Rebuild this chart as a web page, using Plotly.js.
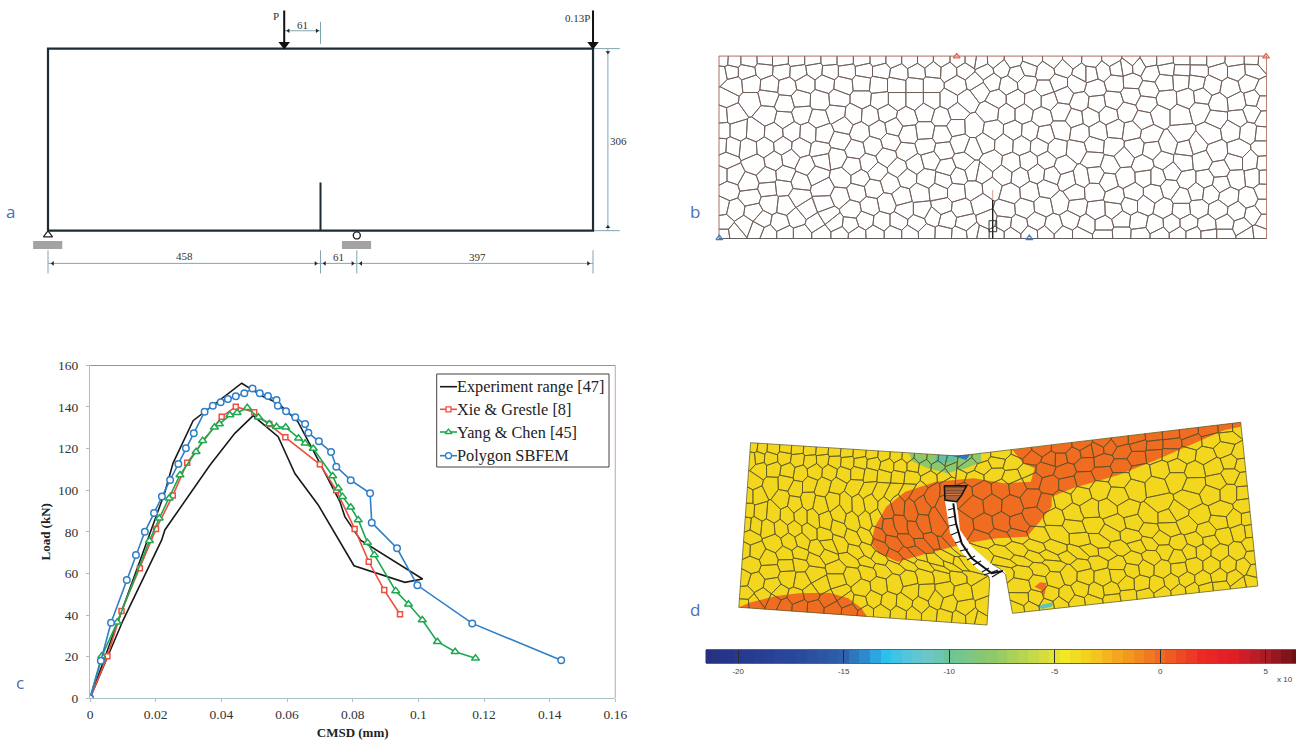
<!DOCTYPE html>
<html>
<head>
<meta charset="utf-8">
<script src="https://cdn.plot.ly/plotly-3.0.1.min.js"></script>
<style>html,body{margin:0;padding:0;background:#fff}#g{width:1296px;height:740px}</style>
</head>
<body>
<div id="g"></div>
<script>
// ---------- panel c: load vs CMSD ----------
const expX = [0,0.0228,0.0253,0.0314,0.0462,0.0527,0.0573,0.0633,0.069,0.0761,0.0776,0.0824,0.1013,0.0959,0.0804,0.0761,0.0695,0.0624,0.0573,0.0497,0.0441,0.0365,0.0284,0.0228,0.0218,0.0101,0];
const expY = [0,99,113,133.4,151.4,145,141.8,132.9,116,94.5,87.3,76,57.3,55.7,63.7,75.3,92.9,108,125.7,135.8,127.3,112,93.7,80.9,76,37.6,0];
const xieX = [0,0.0053,0.0096,0.0152,0.0201,0.0252,0.0296,0.0401,0.0444,0.05,0.0546,0.0595,0.07,0.075,0.0806,0.0849,0.0896,0.0944];
const xieY = [0,20.2,42,62.5,81.3,97.4,113.2,135.3,140.1,137.4,131.8,125.4,112.4,100,81.4,65.6,52,40.4];
const yangX = [0,0.0036,0.0083,0.0181,0.0211,0.0241,0.0274,0.0323,0.0343,0.0379,0.0394,0.0426,0.0448,0.0479,0.0513,0.0546,0.0568,0.0596,0.0635,0.0655,0.068,0.0739,0.0756,0.0769,0.0794,0.0817,0.0845,0.0866,0.0931,0.097,0.1012,0.1058,0.1112,0.1174];
const yangY = [0,20.3,36.5,75.7,86.5,96.1,107.3,118.5,123.8,130.2,131.8,136.1,137.2,139.6,135,131.8,130.5,130.2,124.9,122.5,120,106.8,100.9,96.9,91.8,85.7,74.8,68.9,51.6,45.2,37.6,27.2,22.4,19.2];
const sbfemX = [0,0.0033,0.0064,0.0112,0.014,0.0167,0.0195,0.0219,0.0244,0.0269,0.0292,0.0316,0.0349,0.0374,0.0398,0.042,0.0444,0.047,0.0495,0.0517,0.0542,0.0568,0.0572,0.0597,0.0625,0.0655,0.0665,0.0697,0.0734,0.075,0.0794,0.0853,0.0858,0.0935,0.0997,0.1164,0.1435];
const sbfemY = [0,18,36.3,56.8,68.9,80,89,97,104.9,112.6,120.1,127.3,137.7,140.6,142.2,143.8,145.1,146.6,148.8,146.6,145.3,143.3,140.6,137.9,135,131.8,127.6,123.5,118.4,111.3,104.8,98.5,84.4,72.1,54.3,36,18.3];
const seriesNames = ['Experiment range [47]','Xie & Grestle [8]','Yang & Chen [45]','Polygon SBFEM'];
const xTicks = [0,0.02,0.04,0.06,0.08,0.1,0.12,0.14,0.16];
const xTickLabels = ['0','0.02','0.04','0.06','0.08','0.1','0.12','0.14','0.16'];
const yTicks = [0,20,40,60,80,100,120,140,160];

// ---------- panel a: beam dimensions (mm) ----------
const beamX = [0,916,916,0,0];
const beamY = [0,0,306,306,0];
const notchX = [458,458];
const notchY = [0,81];
const dimBottomText = ['458','61','397'];
const loadX = [397,916];
const loadText = ['P','0.13P'];

// ---------- panel b and d: mesh cell centres ----------
const meshLeft = [
[130,58],[158,60],[207,60],[255,58],[300,58],[350,58],[398,58],[447,58],[495,58],[545,58],[595,58],[640,58],[690,58],[735,58],[785,58],[835,58],[875,58],
[125,100],[150,95],[200,95],[252,88],[305,92],[355,95],[403,88],[450,92],[500,92],[552,90],[603,90],[657,98],[710,95],[760,90],[805,92],[855,90],
[160,135],[212,130],[270,135],[320,140],[375,130],[435,130],[490,135],[545,130],[595,135],[650,135],[705,135],[755,135],[830,135],[885,125],
[140,175],[212,185],[265,172],[315,192],[362,178],[420,180],[475,175],[545,175],[600,180],[650,180],[705,180],[755,180],[805,180],[860,180],
[122,225],[160,222],[260,225],[312,238],[365,222],[415,238],[470,220],[520,225],[570,228],[620,220],[680,232],[735,215],[785,230],[830,215],
[125,272],[175,272],[225,275],[282,278],[335,275],[385,278],[430,280],[490,255],[540,275],[595,270],[640,262],[685,282],[735,275],[785,285],[830,262],[880,260],
[122,318],[155,320],[205,325],[255,322],[308,318],[362,322],[420,332],[480,302],[525,330],[580,318],[630,305],[680,335],[738,318],[790,330],[840,310],[880,325],
[140,360],[225,372],[282,362],[330,355],[378,378],[425,358],[470,352],[518,378],[565,370],[618,350],[655,385],[705,372],[750,360],[800,385],[850,365],
[122,405],[160,405],[205,430],[262,410],[315,405],[360,425],[410,405],[485,415],[540,415],[590,395],[630,430],[680,412],[740,415],[790,420],[835,408],[880,395],
[145,450],[210,470],[265,445],[310,440],[355,470],[430,445],[480,470],[530,455],[580,445],[665,472],[720,460],[775,455],[830,455],[880,450],
[122,500],[165,510],[220,518],[270,490],[315,495],[380,510],[432,490],[515,510],[570,500],[620,490],[675,510],[725,510],[785,500],[845,505],
[130,550],[195,555],[245,540],[300,550],[350,535],[405,550],[445,525],[465,550],[510,555],[555,540],[605,545],[655,545],[710,550],[760,530],[800,540],[855,550],
[130,585],[165,580],[230,568],[265,582],[315,582],[365,582],[425,582],[480,582],[530,585],[585,582],[640,582],[690,582],[740,580],[790,582],[840,585],[880,580]
];
const meshRight = [
[15,62],[60,60],[115,60],[170,58],[235,58],[290,58],[350,60],[410,58],[470,60],[520,60],[570,60],[620,58],[670,58],[720,58],[780,60],[835,60],[865,62],
[30,95],[80,85],[125,100],[160,85],[210,95],[265,85],[320,100],[345,100],[385,92],[425,85],[455,80],[490,78],[527,98],[575,85],[620,90],[670,92],[730,92],[785,92],[835,88],
[50,125],[100,135],[155,130],[210,145],[250,130],[305,130],[360,145],[420,128],[470,125],[520,150],[570,125],[618,122],[665,125],[710,135],[765,145],[820,130],[865,150],
[15,150],[65,178],[122,178],[175,180],[222,180],[265,165],[315,185],[365,190],[415,182],[468,165],[515,190],[575,178],[635,175],[680,170],[730,190],[785,185],[835,175],[865,185],
[45,215],[95,220],[145,220],[200,230],[258,215],[300,235],[345,230],[400,225],[455,215],[505,240],[555,225],[615,225],[675,210],[725,235],[790,235],[830,220],[868,240],
[55,270],[115,272],[165,275],[210,285],[258,270],[315,278],[370,275],[420,268],[470,275],[525,285],[620,282],[705,280],[770,270],[820,275],[865,280],
[30,310],[88,312],[140,315],[193,318],[245,325],[305,330],[358,315],[415,320],[480,320],[530,328],[580,312],[630,325],[665,315],[725,335],[790,330],[865,325],
[50,362],[110,370],[160,365],[215,362],[265,378],[355,358],[405,375],[445,352],[505,375],[565,362],[625,365],[680,360],[735,390],[780,365],[825,365],[868,370],
[20,400],[85,405],[135,410],[185,400],[230,405],[278,420],[320,412],[360,405],[400,425],[450,412],[510,410],[545,410],[590,395],[635,420],[690,420],[738,430],[783,415],[835,410],[870,410],
[50,445],[105,460],[165,455],[215,445],[300,458],[358,455],[420,470],[475,460],[535,460],[585,445],[620,470],[665,455],[705,460],[760,470],[820,475],[868,455],
[20,490],[90,510],[150,505],[205,500],[255,490],[305,500],[365,510],[415,508],[465,495],[510,495],[565,505],[620,510],[670,505],[730,510],[785,515],[835,525],[868,500],
[40,540],[85,550],[130,555],[185,545],[235,555],[285,540],[335,555],[385,555],[440,540],[490,545],[540,555],[590,552],[640,550],[695,555],[750,550],[800,560],[868,545],
[20,585],[65,585],[110,585],[165,585],[210,583],[265,585],[320,585],[385,585],[440,582],[495,585],[555,585],[610,585],[655,585],[700,585],[750,585],[815,585],[855,580]
];

// ---------- panel d: deformed shape and stress zones ----------
const cornerTL = [750.6,442.7], cornerBL = [738.8,607.3], cornerTR = [1240.7,422.3], cornerBR = [1257.8,586];
const crackLeft = [[0,958,456],[0.2,955,486],[0.28,945,501],[0.42,950,533],[0.52,960,550],[0.64,976.7,568],[0.74,990,577],[1,987,625]];
const crackRight = [[0,958,456],[0.2,955,486],[0.28,956.7,501],[0.42,960,530],[0.52,971.7,546.7],[0.64,990,563],[0.74,1005,571.7],[1,1012.5,613.3]];
const zoneMainX = [1012.5,1240.7,1240.7,1224.7,1194.3,1156.3,1118.3,1072.6,1051.7,1051.7,1038.4,1027,996.6,966.2,928.1,897.7,878.7,871.1,874.9,886.3,905.3,935.7,973.8,1004.2,1030.8,1034.6,1023.2];
const zoneMainY = [450,422.3,426.7,430,443.3,460,475,488.3,496.7,506.7,523.3,536.7,538.3,543.3,553.3,561.7,553.3,543.3,526.7,506.7,491.7,481.7,478.3,483.3,481.7,468.3,463.3];
const zoneFootX = [738.8,749.4,776,798.9,829.3,848.3,861.6,867.3];
const zoneFootY = [607.3,602.7,596,593.3,592.7,598.3,608.3,616.7];
const zoneGreenX = [909,958,981,981.4,966.2,947.1,928.1,912.9];
const zoneGreenY = [453.5,456,453.5,461.7,468.3,473.3,468.3,461.7];
const zoneTealX = [935.7,958,954.8,935.7];
const zoneTealY = [454.7,456,461.7,463];
const zoneBlueX = [952,970,966.2];
const zoneBlueY = [455.8,454.6,460];
const zoneSpotX = [1034.6,1040.3,1046.8,1044.1,1041];
const zoneSpotY = [586.7,582.3,583.3,596.7,590];
const zoneLowX = [1036.5,1053.6,1051.7,1042.2];
const zoneLowY = [606,602,606.5,609];
const tipX = [944.3,966.7,961.7,956.7,945,944.3];
const tipY = [485.7,485.7,495,501.7,500,485.7];
const crackLineX = [953.3,956,961.7,971.7,991.7,1003];
const crackLineY = [503.3,523.3,543.3,558.3,573.3,571];

// ---------- colour bar ----------
const barLevels = [-21.5,-21,-20.5,-20,-19.5,-19,-18.5,-18,-17.5,-17,-16.5,-16,-15.5,-15,-14.5,-14,-13.5,-13,-12.5,-12,-11.5,-11,-10.5,-10,-9.5,-9,-8.5,-8,-7.5,-7,-6.5,-6,-5.5,-5,-4.5,-4,-3.5,-3,-2.5,-2,-1.5,-1,-0.5,0,0.5,1,1.5,2,2.5,3,3.5,4,4.5,5,5.5,6,6.5];
const barTicks = [-20,-15,-10,-5,0,5];
const barTickLabels = ['-20','-15','-10','-5','0','5'];
const barStopValues = [-21.5,-20,-17,-15,-14,-13,-12,-11,-10,-8,-6,-4.5,-3,-1.5,0,2,3.5,5,6.5];
const barStopColors = ['#27307f','#26388f','#2a4a9c','#2d62aa','#2c8bd0','#2cc0ec','#55c5dd','#6cc7c6','#6dc49b','#8dc86a','#c6d94a','#f2e826','#f5c51f','#f3981e','#ee6a22','#ec2a24','#e01e26','#a81c26','#6e0f14'];

// ---------- helpers ----------
const W = 1296, H = 740;
const domX = (a,b) => [a/W, b/W];
const domY = (top,bot) => [1-bot/H, 1-top/H];
const serif = '"Liberation Serif","Times New Roman",serif';
const sans = '"Liberation Sans",Arial,sans-serif';
const U_LEFT = 116, U_RIGHT = -769, U_MAX = 1644, V_TOP = 47, V_MAX = 549, U_MID = 815;
const seeds = meshLeft.map(p => [p[0]-U_LEFT, p[1]-V_TOP]).concat(meshRight.map(p => [p[0]-U_RIGHT, p[1]-V_TOP]));

function cellPolygon(s, all, x0, x1) {
  let poly = [[x0,0],[x1,0],[x1,V_MAX],[x0,V_MAX]];
  for (const q of all) {
    if (q === s) continue;
    const dx = q[0]-s[0], dy = q[1]-s[1];
    if (dx*dx+dy*dy > 40000) continue;
    const mx = (q[0]+s[0])/2, my = (q[1]+s[1])/2;
    const out = [];
    for (let i=0;i<poly.length;i++) {
      const a = poly[i], b = poly[(i+1)%poly.length];
      const fa = (a[0]-mx)*dx+(a[1]-my)*dy, fb = (b[0]-mx)*dx+(b[1]-my)*dy;
      if (fa <= 0) out.push(a);
      if ((fa < 0 && fb > 0) || (fa > 0 && fb < 0)) { const t = fa/(fa-fb); out.push([a[0]+t*(b[0]-a[0]), a[1]+t*(b[1]-a[1])]); }
    }
    poly = out;
    if (!poly.length) break;
  }
  return poly;
}
function curveAt(c,t){
  for (let i=1;i<c.length;i++) if (t<=c[i][0]) { const a=c[i-1],b=c[i],f=(t-a[0])/(b[0]-a[0]); return [a[1]+f*(b[1]-a[1]), a[2]+f*(b[2]-a[2])]; }
  const l=c[c.length-1]; return [l[1],l[2]];
}
function warp(u,v,left){
  const t=v/V_MAX;
  if (left){ const A=[cornerTL[0]+(cornerBL[0]-cornerTL[0])*t, cornerTL[1]+(cornerBL[1]-cornerTL[1])*t], C=curveAt(crackLeft,t), s=u/U_MID; return [A[0]+(C[0]-A[0])*s, A[1]+(C[1]-A[1])*s]; }
  const D=[cornerTR[0]+(cornerBR[0]-cornerTR[0])*t, cornerTR[1]+(cornerBR[1]-cornerTR[1])*t], C=curveAt(crackRight,t), s=(u-U_MID)/(U_MAX-U_MID); return [C[0]+(D[0]-C[0])*s, C[1]+(D[1]-C[1])*s];
}
// panel b mesh
const bx=[], by=[];
for (const s of seeds){ const p=cellPolygon(s,seeds,0,U_MAX); if(!p.length) continue; p.concat([p[0]]).forEach(q=>{bx.push(q[0]);by.push(q[1]);}); bx.push(null);by.push(null); }
// panel d mesh
const dx_=[], dy_=[];
function addBlock(list,x0,x1,left){
  for (const s of list){
    const p=cellPolygon(s,list,x0,x1); if(!p.length) continue;
    for (let i=0;i<p.length;i++){
      const a=p[i], b=p[(i+1)%p.length];
      if (a[0]===U_MID && b[0]===U_MID && a[1]>110 && b[1]>110 && Math.max(a[1],b[1])<406) continue;
      const n=Math.max(1,Math.ceil(Math.hypot(b[0]-a[0],b[1]-a[1])/30));
      for(let k=0;k<=n;k++){ const w=warp(a[0]+(b[0]-a[0])*k/n, a[1]+(b[1]-a[1])*k/n, left); dx_.push(w[0]); dy_.push(w[1]); }
      dx_.push(null); dy_.push(null);
    }
  }
}
addBlock(seeds.filter(s=>s[0]<U_MID),0,U_MID,true);
addBlock(seeds.filter(s=>s[0]>=U_MID),U_MID,U_MAX,false);

const leftOutX=[cornerTL[0]].concat(crackLeft.map(p=>p[1]),[cornerBL[0],cornerTL[0]]);
const leftOutY=[cornerTL[1]].concat(crackLeft.map(p=>p[2]),[cornerBL[1],cornerTL[1]]);
const rightOutX=[cornerTR[0]].concat(crackRight.map(p=>p[1]),[cornerBR[0],cornerTR[0]]);
const rightOutY=[cornerTR[1]].concat(crackRight.map(p=>p[2]),[cornerBR[1],cornerTR[1]]);
const bandL=crackLeft.slice(1,7), bandR=crackRight.slice(1,7).reverse();
const bandX=bandL.map(p=>p[1]).concat(bandR.map(p=>p[1]));
const bandY=bandL.map(p=>p[2]).concat(bandR.map(p=>p[2]));

// ---------- traces ----------
const skip = {hoverinfo:'skip', showlegend:false};
const mk = (sym,color,size) => ({symbol:sym,size:size,color:'#ffffff',line:{color:color,width:1.5}});
const seriesColors = ['#1a1a1a','#ee4f40','#1ea850','#2f7fc8'];
const traces = [
 {x:expX,y:expY,name:seriesNames[0],mode:'lines',line:{color:seriesColors[0],width:1.6}},
 {x:xieX,y:xieY,name:seriesNames[1],mode:'lines+markers',line:{color:seriesColors[1],width:1.6},marker:mk('square',seriesColors[1],5)},
 {x:yangX,y:yangY,name:seriesNames[2],mode:'lines+markers',line:{color:seriesColors[2],width:1.6},marker:mk('triangle-up',seriesColors[2],7)},
 {x:sbfemX,y:sbfemY,name:seriesNames[3],mode:'lines+markers',line:{color:seriesColors[3],width:1.6},marker:mk('circle',seriesColors[3],6.5)}
];
const poly=(x,y,c,ax)=>Object.assign({x,y,mode:'lines',fill:'toself',fillcolor:c,line:{width:0,color:c},xaxis:'x'+ax,yaxis:'y'+ax},skip);
const line=(x,y,c,w,ax,extra)=>Object.assign({x,y,mode:'lines',line:{color:c,width:w},xaxis:'x'+ax,yaxis:'y'+ax},skip,extra||{});
const pts=(x,y,sym,size,c,ax,lc,lw)=>Object.assign({x,y,mode:'markers',cliponaxis:false,marker:{symbol:sym,size:size,color:c,line:{color:lc||c,width:lw||0}},xaxis:'x'+ax,yaxis:'y'+ax},skip);

// panel a
const dimC='#7fa6b2';
traces.push(
 line([0,916,null,458,458,null,519,519,null,0,0,null,916,916],[-55,-55,null,-33,-72,null,-33,-72,null,-33,-72,null,-33,-72],dimC,1,2),
 line([941,941,null,916,961,null,916,961],[0,306,null,306,306,null,0,0],dimC,1,2),
 line([397,458,null,458,458],[336,336,null,351,314],dimC,1,2),
 line(beamX,beamY,'#1d2c33',2.2,2),
 line(notchX,notchY,'#1d2c33',2,2),
 line([loadX[0],loadX[0],null,loadX[1],loadX[1]],[370,315,null,370,315],'#111',2,2),
 pts(loadX,[313,313],'triangle-down',10,'#111',2),
 line([-25,24,null,494,543],[-24,-24,null,-24,-24],'#a3a3a3',8,2),
 pts([0],[-7],'triangle-up-open',8,'#222',2,'#222',1.2),
 pts([519],[-8],'circle-open',7,'#222',2,'#222',1.4),
 pts([8,465,909-385+2],[-55,-55,-55],'triangle-left',4,'#223',2),
 pts([450,512,908],[-55,-55,-55],'triangle-right',4,'#223',2),
 pts([941],[300],'triangle-down',4,'#223',2),
 pts([941],[6],'triangle-up',4,'#223',2),
 pts([404],[336],'triangle-left',4,'#223',2),
 pts([452],[336],'triangle-right',4,'#223',2)
);
// panel b
traces.push(
 line(bx,by,'#6f5f58',0.9,3),
 line([0,U_MAX,U_MAX,null,0,0],[0,0,V_MAX,null,V_MAX,0],'#b9705c',1.4,3),
 line([0,U_MAX],[V_MAX,V_MAX],'#4a4a4a',1.4,3),
 line([822,822],[403,433],'#e09a88',1,3),
 line([822,822],[433,V_MAX],'#222',1.4,3),
 line([811,834,834,811,811],[495,495,528,528,495],'#333',1,3),
 pts([714,1642],[2,2],'triangle-up-open',6,'#e0654e',3,'#e0654e',1.2),
 pts([2,932],[V_MAX-2,V_MAX-2],'triangle-up-open',6,'#3f7fd0',3,'#3f7fd0',1.2)
);
// panel d
traces.push(
 poly(leftOutX,leftOutY,'#f3d71e',4),
 poly(rightOutX,rightOutY,'#f3d71e',4),
 poly(zoneMainX,zoneMainY,'#ef6c20',4),
 poly(zoneFootX,zoneFootY,'#ef6c20',4),
 poly(zoneSpotX,zoneSpotY,'#ef6c20',4),
 poly(zoneGreenX,zoneGreenY,'#8cc86c',4),
 poly(zoneTealX,zoneTealY,'#5fc1a7',4),
 poly(zoneBlueX,zoneBlueY,'#2f78c7',4),
 poly(zoneLowX,zoneLowY,'#5fc1c0',4),
 poly(bandX,bandY,'#ffffff',4),
 line(dx_,dy_,'#55502a',0.7,4),
 poly(tipX,tipY,'#8a4a2a',4),
 line([945,965,null,945,964,null,945,963,null,945,961,null,945,959,null,946,957],[489,489,null,492,492,null,494.5,494.5,null,497,497,null,499,499,null,501,501],'#e08a50',0.8,4),
 line(tipX,tipY,'#111',1.5,4),
 line(crackLineX,crackLineY,'#111',2,4),
 line([948,955,null,948,956,null,949,957,null,951,958,null,955,962,null,960,968,null,967,975,null,973,981,null,982,989,null,984,998,null,992,1002],[510,508,null,518,516,null,526,524,null,535,532,null,543,541,null,551,549,null,560,556,null,565,561,null,572,568,null,575,570,null,577,571],'#111',1.1,4)
);
// colour bar
const span = barStopValues[barStopValues.length-1]-barStopValues[0];
traces.push(Object.assign({type:'heatmap',x:barLevels,y:[0],z:[barLevels],zmin:barStopValues[0],zmax:barStopValues[barStopValues.length-1],zsmooth:false,showscale:false,
  colorscale:barStopValues.map((v,i)=>[(v-barStopValues[0])/span,barStopColors[i]]),xaxis:'x5',yaxis:'y5'},{hoverinfo:'skip'}));
// legend of panel c
const legendRows = [386.7,409.3,432,455.7];
traces.push(
 poly([436.7,609,609,436.7,436.7],[374,374,467,467,374],'#ffffff',6),
 line([436.7,609,609,436.7,436.7],[374,374,467,467,374],'#4a4040',1,6),
 line([440,457],[legendRows[0],legendRows[0]],seriesColors[0],1.6,6),
 line([440,457],[legendRows[1],legendRows[1]],seriesColors[1],1.6,6),
 line([440,457],[legendRows[2],legendRows[2]],seriesColors[2],1.6,6),
 line([440,457],[legendRows[3],legendRows[3]],seriesColors[3],1.6,6),
 pts([448.5],[legendRows[1]],'square',5,'#fff',6,seriesColors[1],1.3),
 pts([448.5],[legendRows[2]],'triangle-up',6,'#fff',6,seriesColors[2],1.3),
 pts([448.5],[legendRows[3]],'circle',6,'#fff',6,seriesColors[3],1.3)
);

// ---------- annotations ----------
const note=(x,y,text,size,color,font,ref)=>({x,y,text,showarrow:false,xref:ref?'x'+ref:'paper',yref:ref?'y'+ref:'paper',font:{size,color,family:font},xanchor:'center',yanchor:'middle'});
const blue='#4a6db5', labelFont='"Open Sans",sans-serif';
const annotations=[
 note(10.5/W,1-212/H,'a',17,blue,labelFont),
 note(695/W,1-212/H,'b',17,blue,labelFont),
 note(20/W,1-682/H,'c',17,blue,labelFont),
 note(695/W,1-609/H,'d',17,blue,labelFont),
 note(229,-43,dimBottomText[0],11,'#333',serif,2),
 note(489,-45,dimBottomText[1],11,'#333',serif,2),
 note(721,-45,dimBottomText[2],11,'#333',serif,2),
 note(958,150,'306',11,'#333',serif,2),
 note(428,346,'61',11,'#333',serif,2),
 note(383,361,loadText[0],11,'#333',serif,2),
 note(890,357,loadText[1],11,'#333',serif,2),
 {x:1295/W,y:1-679/H,xref:'paper',yref:'paper',text:'x 10',showarrow:false,xanchor:'right',yanchor:'middle',font:{size:8,color:'#444',family:sans}}
].concat(seriesNames.map((n,i)=>({x:458.3,y:legendRows[i],xref:'x6',yref:'y6',text:n.replace('&','&amp;'),showarrow:false,xanchor:'left',yanchor:'middle',xshift:-3,font:{family:serif,size:16.3,color:'#222'}})));
const hidden=(d,r,extra)=>Object.assign({domain:d,range:r,visible:false,fixedrange:true},extra||{});

const layout={
 width:W,height:H,margin:{l:0,r:0,t:0,b:0},paper_bgcolor:'#fff',plot_bgcolor:'rgba(0,0,0,0)',showlegend:false,annotations,
 xaxis:{domain:domX(90,615.4),range:[0,0.16],tickvals:xTicks,ticktext:xTickLabels,showgrid:false,zeroline:false,showline:true,linecolor:'#a9c0ca',linewidth:1,ticks:'outside',ticklen:3,tickcolor:'#a9c0ca',tickfont:{family:serif,size:13.5,color:'#333'},title:{text:'<b>CMSD (mm)</b>',font:{family:serif,size:13,color:'#222'},standoff:10},anchor:'y'},
 yaxis:{domain:domY(365.3,698.3),range:[0,160],tickvals:yTicks,showgrid:false,zeroline:false,showline:true,linecolor:'#a9c0ca',linewidth:1,ticks:'outside',ticklen:3,tickcolor:'#a9c0ca',ticklabelstandoff:5,tickfont:{family:serif,size:13.5,color:'#333'},title:{text:'<b>Load (kN)</b>',font:{family:serif,size:13,color:'#222'},standoff:4},anchor:'x'},
 xaxis2:hidden(domX(0.4,678.7),[-80,1060],{anchor:'y2'}),
 yaxis2:hidden(domY(1,285.4),[-92,386],{anchor:'x2'}),
 xaxis3:hidden(domX(718.7,1266.7),[0,U_MAX],{anchor:'y3'}),
 yaxis3:hidden(domY(55.7,238.7),[V_MAX,0],{anchor:'x3'}),
 xaxis4:hidden(domX(705,1296),[705,1296],{anchor:'y4'}),
 yaxis4:hidden(domY(415,640),[640,415],{anchor:'x4'}),
 xaxis5:{domain:domX(705.5,1296),range:[-21.55,6.44],tickvals:barTicks,ticktext:barTickLabels,ticks:'inside',ticklen:13,tickcolor:'#2b2b2b',tickwidth:1,showgrid:false,zeroline:false,showline:true,linecolor:'#6f6048',mirror:true,tickfont:{family:sans,size:8,color:'#444'},anchor:'y5',fixedrange:true},
 yaxis5:{domain:domY(650,663.3),visible:false,range:[-0.5,0.5],anchor:'x5',fixedrange:true},
 xaxis6:hidden(domX(430,615),[430,615],{anchor:'y6'}),
 yaxis6:hidden(domY(370,470),[470,370],{anchor:'x6'}),
 shapes:[
  {type:'line',xref:'x',yref:'y',x0:0,x1:0.16,y0:160,y1:160,line:{color:'#6e4336',width:1}},
  {type:'line',xref:'x',yref:'y',x0:0.16,x1:0.16,y0:0,y1:160,line:{color:'#6e4336',width:1}}
 ]
};
Plotly.newPlot('g',traces,layout,{displayModeBar:false,responsive:false,staticPlot:true});
</script>
</body>
</html>
